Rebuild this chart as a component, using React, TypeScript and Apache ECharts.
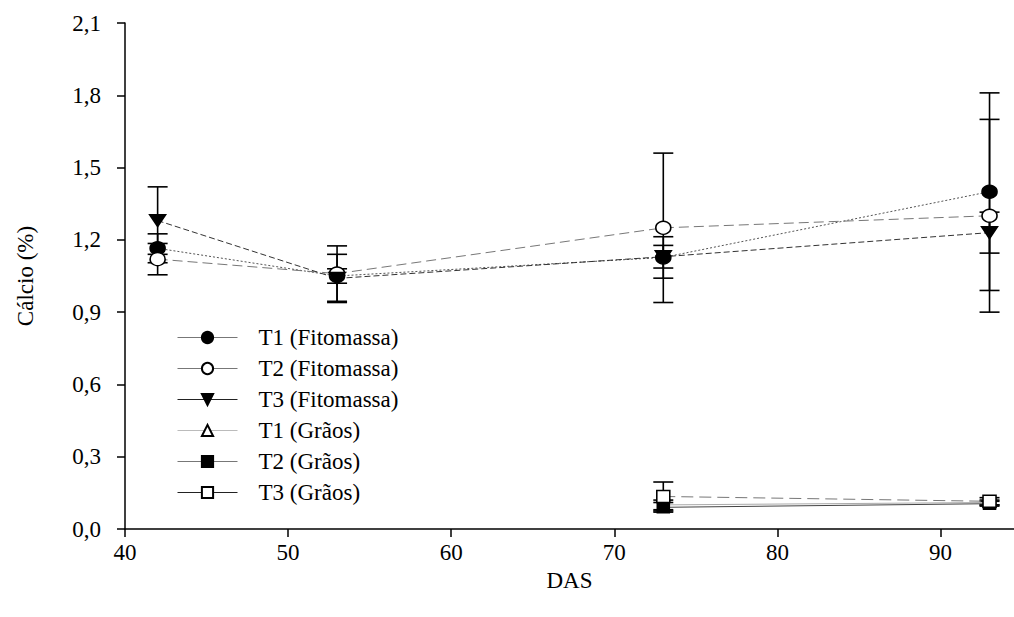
import React, { useEffect, useRef } from "react";
import * as echarts from "echarts";

const fitoX = [42, 53, 73, 93];
const t1Fito = [1.165, 1.05, 1.127, 1.4];
const t1FitoErr = [0.06, 0.03, 0.086, 0.41];
const t2Fito = [1.12, 1.06, 1.25, 1.3];
const t2FitoErr = [0.065, 0.115, 0.31, 0.4];
const t3Fito = [1.28, 1.04, 1.13, 1.23];
const t3FitoErr = [0.14, 0.1, 0.047, 0.085];

const graosX = [73, 93];
const t1Graos = [0.1, 0.11];
const t1GraosErr = [0.02, 0.01];
const t2Graos = [0.09, 0.105];
const t2GraosErr = [0.02, 0.01];
const t3Graos = [0.135, 0.115];
const t3GraosErr = [0.06, 0.015];

const yTicks = ["0,0", "0,3", "0,6", "0,9", "1,2", "1,5", "1,8", "2,1"];
const names = [
  "T1 (Fitomassa)",
  "T2 (Fitomassa)",
  "T3 (Fitomassa)",
  "T1 (Grãos)",
  "T2 (Grãos)",
  "T3 (Grãos)",
];

const FONT = "'Liberation Serif', 'Times New Roman', serif";
const FS = 23;

const pairs = (xs: number[], ys: number[]) => xs.map((x, i) => [x, ys[i]]);
const errs = (xs: number[], ys: number[], es: number[]) =>
  xs.map((x, i) => [x, ys[i] - es[i], ys[i] + es[i]]);

export default function App() {
  const ref = useRef<HTMLDivElement>(null);
  useEffect(() => {
    if (!ref.current) return;
    const chart = echarts.init(ref.current, null, { renderer: "svg" });

    const errData = [
      ...errs(fitoX, t1Fito, t1FitoErr),
      ...errs(fitoX, t2Fito, t2FitoErr),
      ...errs(fitoX, t3Fito, t3FitoErr),
      ...errs(graosX, t1Graos, t1GraosErr),
      ...errs(graosX, t2Graos, t2GraosErr),
      ...errs(graosX, t3Graos, t3GraosErr),
    ];

    const lineColors = ["#555", "#777", "#333", "#aaa", "#444", "#777"];
    const dashes: any[] = [[2, 2], [10, 5], [6, 3], "solid", "solid", [12, 6]];
    const symbols = ["circle", "circle", "triangle", "triangle", "rect", "rect"];
    const rot = [0, 0, 180, 0, 0, 0];
    const fills = ["#000", "#fff", "#000", "#fff", "#000", "#fff"];
    const sizes: any[] = [[15, 13], [15, 13], [16, 12], [12, 10], [12, 11], [13, 12]];
    const datas = [
      pairs(fitoX, t1Fito),
      pairs(fitoX, t2Fito),
      pairs(fitoX, t3Fito),
      pairs(graosX, t1Graos),
      pairs(graosX, t2Graos),
      pairs(graosX, t3Graos),
    ];

    const lineSeries = names.map((n, i) => ({
      name: n,
      type: "line",
      data: datas[i],
      symbol: symbols[i],
      symbolRotate: rot[i],
      symbolSize: sizes[i],
      z: 3,
      lineStyle: { color: lineColors[i], width: 1, type: dashes[i] },
      itemStyle: { color: fills[i], borderColor: "#000", borderWidth: 1.5 },
    }));

    chart.setOption({
      animation: false,
      backgroundColor: "#fff",
      textStyle: { fontFamily: FONT, color: "#000" },
      grid: { left: 125, right: 0, top: 23, bottom: 88 },
      legend: {
        orient: "vertical",
        left: 172,
        top: 321,
        itemWidth: 60,
        itemHeight: 14,
        itemGap: 8,
        textStyle: {
          fontFamily: FONT,
          fontSize: FS,
          color: "#000",
          lineHeight: 22.5,
          padding: [0, 0, 0, 16],
        },
        data: names.map((n, i) => ({
          name: n,
          lineStyle: {
            type: "solid",
            color: i === 3 ? "#bbb" : i === 2 || i === 5 ? "#222" : "#777",
            width: 1,
          },
        })),
      },
      xAxis: {
        type: "value",
        min: 40,
        max: 94.5,
        interval: 10,
        name: "DAS",
        nameLocation: "middle",
        nameGap: 40,
        nameTextStyle: { fontFamily: FONT, fontSize: FS, color: "#000" },
        axisLine: { lineStyle: { color: "#000", width: 1.5 } },
        axisTick: { lineStyle: { color: "#000", width: 1.5 }, length: 8 },
        axisLabel: {
          fontFamily: FONT,
          fontSize: FS,
          color: "#000",
          margin: 12,
          showMaxLabel: false,
        },
        splitLine: { show: false },
      },
      yAxis: {
        type: "value",
        min: 0,
        max: 2.1,
        interval: 0.3,
        name: "Cálcio (%)",
        nameLocation: "middle",
        nameGap: 88,
        nameMoveOverlap: false,
        nameTextStyle: { fontFamily: FONT, fontSize: FS, color: "#000" },
        axisLine: { show: true, lineStyle: { color: "#000", width: 1.5 } },
        axisTick: { show: true, lineStyle: { color: "#000", width: 1.5 }, length: 8 },
        axisLabel: {
          fontFamily: FONT,
          fontSize: FS,
          color: "#000",
          margin: 24,
          formatter: (v: number) => yTicks[Math.round(v / 0.3)] ?? "",
        },
        splitLine: { show: false },
      },
      series: [
        {
          type: "custom",
          name: "err",
          z: 2,
          data: errData,
          renderItem: (params: any, api: any) => {
            const x = api.value(0);
            const lo = api.coord([x, api.value(1)]);
            const hi = api.coord([x, api.value(2)]);
            const w = 10;
            const st = { stroke: "#000", lineWidth: 1.6 };
            return {
              type: "group",
              children: [
                { type: "line", shape: { x1: lo[0], y1: lo[1], x2: hi[0], y2: hi[1] }, style: st },
                { type: "line", shape: { x1: lo[0] - w, y1: lo[1], x2: lo[0] + w, y2: lo[1] }, style: st },
                { type: "line", shape: { x1: hi[0] - w, y1: hi[1], x2: hi[0] + w, y2: hi[1] }, style: st },
              ],
            };
          },
        },
        ...lineSeries,
      ],
    });
    return () => chart.dispose();
  }, []);
  return (
    <div
      ref={ref}
      style={{ position: "absolute", left: 0, top: 0, width: 1014, height: 617 }}
    />
  );
}
